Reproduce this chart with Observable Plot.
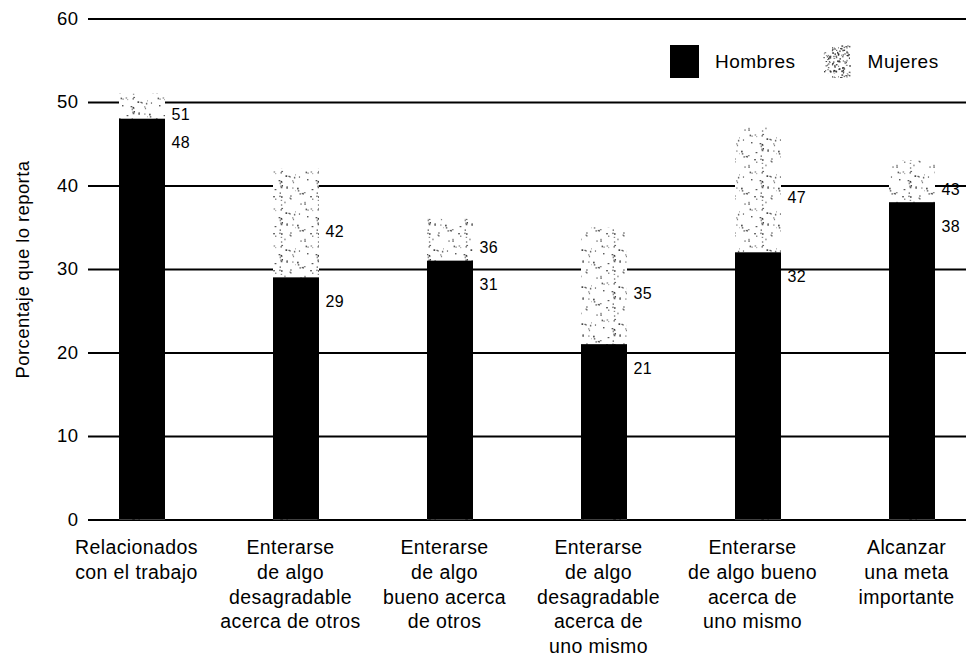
<!DOCTYPE html>
<html>
<head>
<meta charset="utf-8">
<script src="https://cdn.jsdelivr.net/npm/d3@7"></script>
<script src="https://cdn.jsdelivr.net/npm/@observablehq/plot@0.6"></script>
<style>
  html, body { margin: 0; padding: 0; background: #fff; }
  #wrap { position: relative; width: 966px; height: 665px; overflow: hidden; font-family: "Liberation Sans", Arial, sans-serif; }
  #wrap svg text { letter-spacing: 0.4px; }
  #legend { position: absolute; left: 670px; top: 45px; display: flex; align-items: center; font-size: 19px; letter-spacing: 0.5px; color: #000; }
  #legend .sw { width: 29px; height: 33px; display: block; }
  #legend span { margin-left: 16px; margin-right: 27px; }
</style>
</head>
<body>
<div id="wrap">
  <div id="legend">
    <svg class="sw" width="29" height="33"><rect width="29" height="33" fill="#000"/></svg>
    <span>Hombres</span>
    <svg class="sw" width="28" height="33"><rect width="28" height="33" fill="url(#speckleDense)"/></svg>
    <span>Mujeres</span>
  </div>
</div>
<script>
// ---- data ----
const categories = [
  "Relacionados\ncon el trabajo",
  "Enterarse\nde algo\ndesagradable\nacerca de otros",
  "Enterarse\nde algo\nbueno acerca\nde otros",
  "Enterarse\nde algo\ndesagradable\nacerca de\nuno mismo",
  "Enterarse\nde algo bueno\nacerca de\nuno mismo",
  "Alcanzar\nuna meta\nimportante"
];
const hombres = [48, 29, 31, 21, 32, 38];
const mujeres = [51, 42, 36, 35, 47, 43];
const yTicks = [0, 10, 20, 30, 40, 50, 60];
const yLabel = "Porcentaje que lo reporta";

const rows = categories.map((c, i) => ({cat: c, h: hombres[i], m: mujeres[i]}));

const font = "Liberation Sans, Arial, sans-serif";

const chart = Plot.plot({
  width: 966,
  height: 665,
  marginLeft: 88,
  marginRight: 0,
  marginTop: 18.5,
  marginBottom: 145.5,
  style: {background: "#fff", fontFamily: font, color: "#000", overflow: "hidden"},
  x: {type: "band", domain: categories, range: [63.75, 990.75], paddingInner: 0.7, paddingOuter: 0.35, axis: null},
  y: {domain: [0, 60], range: [519.5, 18.5], axis: null},
  marks: [
    Plot.ruleY(yTicks, {stroke: "#000", strokeWidth: 2}),
    Plot.text(yTicks, {y: d => d, frameAnchor: "left", textAnchor: "end", dx: -10, text: d => String(d), fontSize: 18.5, fill: "#000"}),
    Plot.barY(rows, {x: "cat", y1: 0, y2: "m", fill: "url(#speckle)"}),
    Plot.barY(rows, {x: "cat", y1: 0, y2: "h", fill: "#000"}),
    Plot.text(rows, {x: "cat", y: "h", text: d => String(d.h), textAnchor: "start", dx: 29, dy: 24, fontSize: 16, fill: "#000"}),
    Plot.text(rows, {x: "cat", y: d => (d.h + d.m) / 2, text: d => String(d.m), textAnchor: "start", dx: 29, dy: 8, fontSize: 16, fill: "#000"}),
    Plot.text(rows, {x: "cat", frameAnchor: "bottom", text: "cat", lineAnchor: "top", dy: 17, dx: -6, fontSize: 19.5, lineHeight: 1.26, fill: "#000"}),
    Plot.text([yLabel], {frameAnchor: "left", textAnchor: "middle", text: d => d, rotate: -90, dx: -65, fontSize: 18.5, fill: "#000"})
  ]
});

// speckle texture patterns (deterministic)
const svg = d3.select(chart.tagName.toLowerCase() === "svg" ? chart : chart.querySelector("svg"));
const defs = svg.insert("defs", ":first-child");
function makePattern(id, size, n, seed) {
  const p = defs.append("pattern").attr("id", id).attr("patternUnits", "userSpaceOnUse")
    .attr("width", size).attr("height", size);
  p.append("rect").attr("width", size).attr("height", size).attr("fill", "#fff");
  let s = seed;
  const rnd = () => { s = (s * 1103515245 + 12345) % 2147483648; return s / 2147483648; };
  for (let k = 0; k < n; k++) {
    p.append("rect").attr("x", (rnd() * size).toFixed(1)).attr("y", (rnd() * size).toFixed(1))
      .attr("width", 1 + rnd() * 0.8).attr("height", 1 + rnd() * 0.8)
      .attr("fill", "#222").attr("opacity", 0.5 + rnd() * 0.45);
  }
}
makePattern("speckle", 37, 48, 7);
makePattern("speckleDense", 29, 110, 11);

document.getElementById("wrap").prepend(chart);
</script>
</body>
</html>
